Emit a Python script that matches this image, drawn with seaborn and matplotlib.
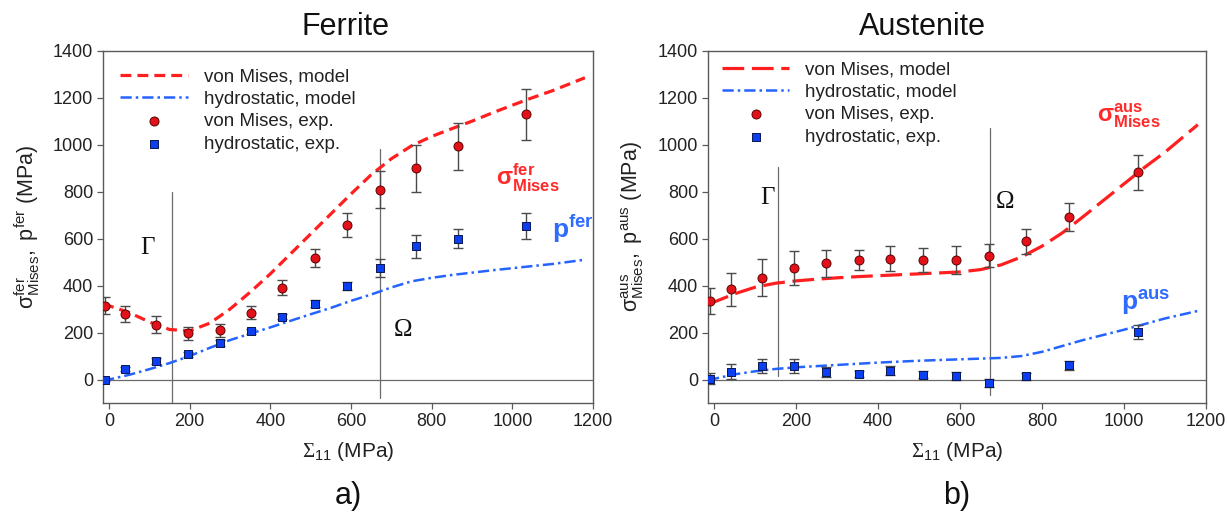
import numpy as np
import pandas as pd
import matplotlib
matplotlib.use("Agg")
import matplotlib.pyplot as plt
import seaborn as sns

# ---------------- data ----------------
x_exp = [-10, 40, 117, 195, 274, 353, 430, 510, 590, 671, 760, 866, 1035]

fer_mises_exp = [315, 278, 234, 196, 210, 285, 390, 517, 658, 809, 900, 993, 1129]
fer_mises_err = [37, 33, 35, 28, 28, 26, 32, 40, 50, 77, 100, 100, 110]
fer_hydro_exp = [0, 45, 79, 107, 155, 205, 268, 323, 397, 476, 568, 600, 655]
fer_hydro_err = [8, 10, 12, 10, 12, 10, 10, 14, 18, 38, 49, 40, 56]

aus_mises_exp = [333, 384, 433, 474, 495, 509, 515, 509, 509, 527, 588, 692, 883]
aus_mises_err = [55, 70, 78, 72, 58, 42, 53, 53, 60, 49, 53, 61, 74]
aus_hydro_exp = [4, 34, 59, 56, 32, 24, 38, 21, 14, -14, 14, 60, 204]
aus_hydro_err = [22, 30, 30, 30, 20, 12, 18, 15, 18, 18, 15, 20, 30]

x_model = [-15, 0, 50, 100, 150, 200, 250, 300, 350, 400, 450, 500, 550, 600,
           650, 700, 750, 800, 850, 900, 950, 1000, 1050, 1100, 1180]
fer_mises_model = [318, 314, 285, 245, 213, 207, 240, 300, 372, 450, 535, 620, 705, 790,
                   872, 940, 995, 1035, 1068, 1100, 1135, 1168, 1200, 1230, 1285]
fer_hydro_model = [-5, 0, 20, 44, 70, 100, 135, 168, 195, 222, 250, 278, 305, 335,
                   362, 392, 418, 433, 445, 455, 465, 474, 483, 492, 510]
aus_mises_model = [318, 330, 365, 393, 410, 420, 427, 433, 438, 442, 446, 450, 454, 458,
                   468, 488, 522, 568, 625, 693, 763, 833, 903, 968, 1085]
aus_hydro_model = [-3, 3, 22, 35, 45, 52, 57, 62, 67, 72, 76, 80, 83, 86,
                   89, 92, 100, 118, 143, 168, 190, 212, 236, 260, 292]

legend_labels = ["von Mises, model", "hydrostatic, model", "von Mises, exp.", "hydrostatic, exp."]
titles = ["Ferrite", "Austenite"]
panel_tags = ["a)", "b)"]
xticks = [0, 200, 400, 600, 800, 1000, 1200]
yticks = [0, 200, 400, 600, 800, 1000, 1200, 1400]

# boundary lines: (x, ymin, ymax)
fer_vlines = [(155, -95, 800), (672, -80, 980)]
aus_vlines = [(155, 14, 903), (672, -65, 1069)]
# region labels: (text, x, y)
fer_regions = [("Γ", 95, 560), ("Ω", 729, 209)]
aus_regions = [("Γ", 129, 773), ("Ω", 709, 755)]

# ---------------- style ----------------
sns.set_theme(style="white")
plt.rcParams["font.family"] = ["Liberation Sans", "DejaVu Sans"]
plt.rcParams["mathtext.fontset"] = "custom"
plt.rcParams["mathtext.rm"] = "Liberation Serif"
plt.rcParams["mathtext.sf"] = "Liberation Sans"
plt.rcParams["mathtext.bf"] = "Liberation Sans:bold"
plt.rcParams["mathtext.it"] = "Liberation Sans:italic"

RED_LINE = "#ff1f1f"
BLUE_LINE = "#2563ff"
RED_PT = "#e3121a"
BLUE_PT = "#0b3ff0"
ERR = "#4a4a4a"
SPINE = "#5a5a5a"

fig = plt.figure(figsize=(12.28, 5.17), dpi=100)
H = 517.0
W = 1228.0
ax1 = fig.add_axes([103 / W, 1 - 403 / H, 490 / W, 352.3 / H])
ax2 = fig.add_axes([708 / W, 1 - 403 / H, 498 / W, 352.3 / H])


def draw(ax, mises_model, hydro_model, mises_exp, mises_err, hydro_exp, hydro_err,
         red_dash, vlines, regions, title, title_x, tag, sup, legend_anchor):
    df = pd.DataFrame({"x": x_model, "m": mises_model, "h": hydro_model})
    sns.lineplot(data=df, x="x", y="m", ax=ax, color=RED_LINE, lw=2.3, sort=False,
                 estimator=None, label=legend_labels[0], zorder=2)
    sns.lineplot(data=df, x="x", y="h", ax=ax, color=BLUE_LINE, lw=1.8, sort=False,
                 estimator=None, label=legend_labels[1], zorder=2)
    ax.lines[-2].set_dashes(red_dash)
    ax.lines[-1].set_dashes((4.5, 1.6, 1.0, 1.6))

    ax.errorbar(x_exp, mises_exp, yerr=mises_err, fmt="none", ecolor=ERR,
                elinewidth=1.0, capsize=3.8, capthick=1.0, zorder=3)
    ax.errorbar(x_exp, hydro_exp, yerr=hydro_err, fmt="none", ecolor=ERR,
                elinewidth=1.0, capsize=3.8, capthick=1.0, zorder=3)
    de = pd.DataFrame({"x": x_exp, "m": mises_exp, "h": hydro_exp})
    sns.scatterplot(data=de, x="x", y="m", ax=ax, marker="o", s=42, color=RED_PT,
                    edgecolor="#5a0000", linewidth=0.7, label=legend_labels[2], zorder=4)
    sns.scatterplot(data=de, x="x", y="h", ax=ax, marker="s", s=32, color=BLUE_PT,
                    edgecolor="#0a1650", linewidth=0.7, label=legend_labels[3], zorder=4)

    ax.axhline(0, color="#6a6a6a", lw=0.9, zorder=1)
    for xv, y0, y1 in vlines:
        ax.plot([xv, xv], [y0, y1], color="#6a6a6a", lw=0.9, zorder=1)
    for t, xv, yv in regions:
        ax.text(xv, yv, t, family=["Liberation Serif", "DejaVu Serif"], fontsize=18,
                ha="center", va="center", color="#111111")

    ax.set_xlim(-15, 1200)
    ax.set_ylim(-100, 1400)
    ax.set_xticks(xticks)
    ax.set_yticks(yticks)
    ax.tick_params(axis="both", labelsize=13, length=4, width=0.9, color=SPINE,
                   direction="out", bottom=True, left=True, top=False, right=False,
                   labelcolor="#222222", pad=3)
    for sp in ax.spines.values():
        sp.set_color(SPINE)
        sp.set_linewidth(1.0)

    ax.set_xlabel(r"$\mathrm{\Sigma}_{\mathsf{11}}$ (MPa)", fontsize=15, color="#222222")
    ax.xaxis.set_label_coords(0.5, -0.105)
    ax.set_ylabel(r"$\mathsf{σ}^{\mathsf{%s}}_{\mathsf{Mises}}\mathsf{,\ p}^{\mathsf{%s}}$ (MPa)" % (sup, sup),
                  fontsize=15.5, color="#222222")
    ax.yaxis.set_label_coords(-0.125, 0.5)

    ax.set_title(title, fontsize=22, x=title_x, pad=11, color="#111111")
    ax.text(0.5, -0.265, tag, transform=ax.transAxes, fontsize=22, ha="center",
            va="center", color="#111111")

    h, l = ax.get_legend_handles_labels()
    leg = ax.legend(h, l, loc="upper left", bbox_to_anchor=legend_anchor, frameon=False,
                    fontsize=13.5, handlelength=3.6, handletextpad=0.85, labelspacing=0.28,
                    borderpad=0, borderaxespad=0, scatterpoints=1)
    for txt in leg.get_texts():
        txt.set_color("#222222")


draw(ax1, fer_mises_model, fer_hydro_model, fer_mises_exp, fer_mises_err,
     fer_hydro_exp, fer_hydro_err, (3.4, 1.9), fer_vlines, fer_regions,
     titles[0], 0.495, panel_tags[0], "fer", (0.035, 0.95))
draw(ax2, aus_mises_model, aus_hydro_model, aus_mises_exp, aus_mises_err,
     aus_hydro_exp, aus_hydro_err, (6.8, 2.4), aus_vlines, aus_regions,
     titles[1], 0.43, panel_tags[1], "aus", (0.028, 0.97))

# curve annotations
ax1.text(959, 827, r"$\mathbf{σ}^{\mathbf{fer}}_{\mathbf{Mises}}$", color="#ff2a2a",
         fontsize=17, ha="left", va="baseline")
ax1.text(1098, 601, r"$\mathbf{p}^{\mathbf{fer}}$", color="#2f6bff",
         fontsize=19, ha="left", va="baseline")
ax2.text(934, 1099, r"$\mathbf{σ}^{\mathbf{aus}}_{\mathbf{Mises}}$", color="#ff2a2a",
         fontsize=17, ha="left", va="baseline")
ax2.text(993, 298, r"$\mathbf{p}^{\mathbf{aus}}$", color="#2f6bff",
         fontsize=19, ha="left", va="baseline")

fig.savefig("out.png", dpi=100)
